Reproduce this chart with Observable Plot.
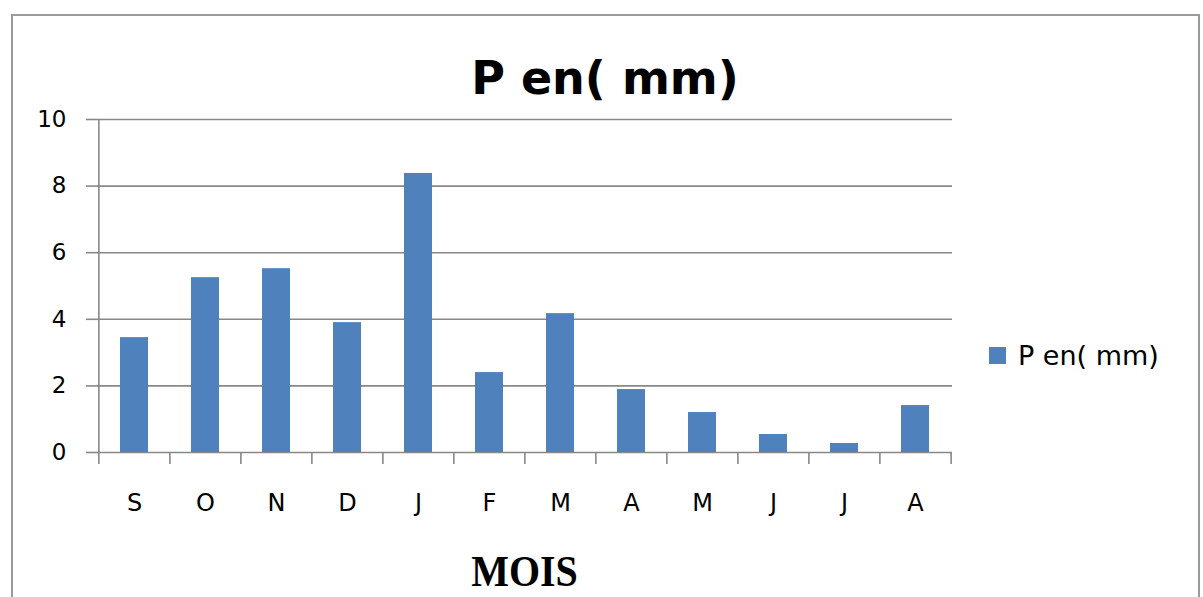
<!DOCTYPE html>
<html>
<head>
<meta charset="utf-8">
<script src="https://cdn.jsdelivr.net/npm/d3@7"></script>
<script src="https://cdn.jsdelivr.net/npm/@observablehq/plot@0.6"></script>
<style>
  html, body { margin: 0; padding: 0; background: #fff; }
  #wrap { position: relative; width: 1203px; height: 597px; overflow: hidden; background: #fff; font-family: "DejaVu Sans", Verdana, sans-serif; }
  #frame { position: absolute; left: 11px; top: 14px; width: 1185px; height: 620px; border: 2px solid #9a9a9a; }
  #title { position: absolute; left: 0; width: 1210px; top: 48px; text-align: center; font-weight: bold; font-size: 46px; color: #000; line-height: 60px; }
  #xlabel { position: absolute; left: 97px; width: 855px; top: 548px; text-align: center; font-family: "Liberation Serif", "Times New Roman", serif; font-weight: bold; font-size: 40px; line-height: 46px; color: #000; transform: scaleY(1.12); }
  #legend { position: absolute; left: 989px; top: 340px; display: flex; align-items: center; font-size: 27px; color: #000; }
  #legend .sw { width: 17px; height: 17px; background: #4F81BD; margin-right: 12px; }
  #chart { position: absolute; left: 0; top: 0; }
</style>
</head>
<body>
<div id="wrap">
  <div id="frame"></div>
  <div id="title">P en( mm)</div>
  <div id="chart"></div>
  <div id="xlabel">MOIS</div>
  <div id="legend"><div class="sw"></div><span>P en( mm)</span></div>
</div>
<script>
const months = ["S", "O", "N", "D", "J", "F", "M", "A", "M", "J", "J", "A"];
const values = [3.45, 5.25, 5.52, 3.9, 8.38, 2.4, 4.17, 1.89, 1.2, 0.54, 0.27, 1.41];
const yTicks = [0, 2, 4, 6, 8, 10];
const seriesName = "P en( mm)";

const data = months.map((m, i) => ({i, month: m, value: values[i]}));
const idx = months.map((m, i) => i);

const W = 1203, H = 597;
const mL = 97, mR = 251, mT = 119, mB = 145;
const step = (W - mL - mR) / months.length;
const gridColor = "#888";

const chart = Plot.plot({
  width: W,
  height: H,
  marginLeft: mL,
  marginRight: mR,
  marginTop: mT,
  marginBottom: mB,
  style: {background: "transparent", color: "#000", fontFamily: "'DejaVu Sans', Verdana, sans-serif"},
  x: {type: "band", domain: idx, paddingInner: 0.6, paddingOuter: 0.3},
  y: {domain: [0, 10]},
  marks: [
    Plot.ruleY(yTicks, {stroke: gridColor, strokeWidth: 1.6}),
    Plot.barY(data, {x: "i", y: "value", fill: "#4F81BD"}),
    Plot.ruleX([0], {dx: -step / 2, y1: 0, y2: 10, stroke: gridColor, strokeWidth: 1.6}),
    Plot.ruleX(idx, {dx: -step / 2, y1: 0, y2: 0, insetBottom: -12, stroke: gridColor, strokeWidth: 1.6}),
    Plot.ruleX([idx.length - 1], {dx: step / 2, y1: 0, y2: 0, insetBottom: -12, stroke: gridColor, strokeWidth: 1.6}),
    Plot.axisY({ticks: yTicks, tickSize: 11, tickPadding: 20, stroke: gridColor, strokeWidth: 1.6, fontSize: 23, label: null}),
    Plot.axisX({tickSize: 0, tickPadding: 41, fontSize: 24, tickFormat: (i) => months[i], label: null})
  ]
});
document.getElementById("chart").appendChild(chart);
</script>
</body>
</html>
